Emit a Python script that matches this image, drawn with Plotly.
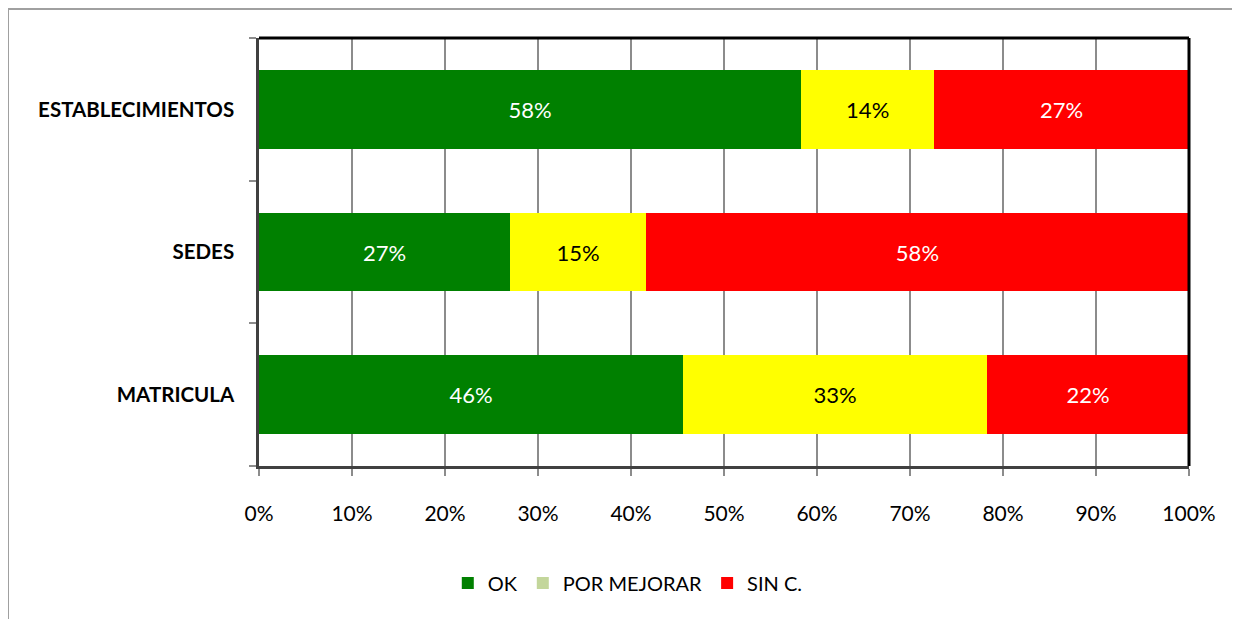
import plotly.graph_objects as go

categories = ["MATRICULA", "SEDES", "ESTABLECIMIENTOS"]
ok = [45.6, 27.0, 58.3]
por_mejorar = [32.7, 14.6, 14.3]
sin_c = [21.7, 58.4, 27.4]
tick_vals = [0, 10, 20, 30, 40, 50, 60, 70, 80, 90, 100]
tick_text = [f"{v}%" for v in tick_vals]

FONT = "Lato"
W, H = 1232, 611
L, T, R, B = 251, 30, 1181, 458  # plot area in figure pixels
PW, PH = R - L, B - T

def px(x):
    return (x - L) / PW

def py(y):
    return (B - y) / PH

fig = go.Figure()
fig.add_trace(go.Bar(
    y=categories, x=ok, orientation="h", name="OK",
    marker=dict(color="#008000", line=dict(width=0)),
    texttemplate="%{x:.0f}%", textposition="inside", insidetextanchor="middle",
    textfont=dict(color="white", size=22, family=FONT),
))
fig.add_trace(go.Bar(
    y=categories, x=por_mejorar, orientation="h", name="POR MEJORAR",
    marker=dict(color="#FFFF00", line=dict(width=0)), showlegend=False,
    texttemplate="%{x:.0f}%", textposition="inside", insidetextanchor="middle",
    textfont=dict(color="black", size=22, family=FONT),
))
fig.add_trace(go.Bar(
    y=[None], x=[None], orientation="h", name="POR MEJORAR",
    marker=dict(color="#C3D69B", line=dict(width=0)),
))
fig.add_trace(go.Bar(
    y=categories, x=sin_c, orientation="h", name="SIN C.",
    marker=dict(color="#FF0000", line=dict(width=0)),
    texttemplate="%{x:.0f}%", textposition="inside", insidetextanchor="middle",
    textfont=dict(color="white", size=22, family=FONT),
))

fig.update_layout(
    width=W, height=H,
    barmode="stack", bargap=0.45,
    plot_bgcolor="white", paper_bgcolor="white",
    margin=dict(l=L, r=W - R, t=T, b=H - B, autoexpand=False),
    font=dict(family=FONT, size=20, color="black"),
    uniformtext=dict(mode=False),
    legend=dict(orientation="h", x=0.203, xanchor="left", y=py(575), yanchor="middle",
                font=dict(size=20, family=FONT), traceorder="normal",
                itemwidth=30, tracegroupgap=0),
    xaxis=dict(range=[0, 100], tickvals=tick_vals, ticktext=tick_text,
               showgrid=True, gridcolor="#8C8C8C", gridwidth=1.5,
               showline=True, linecolor="#404040", linewidth=2.5,
               ticks="outside", ticklen=7, tickcolor="#8C8C8C", tickwidth=1.5,
               ticklabelstandoff=20,
               tickfont=dict(size=21, family=FONT), zeroline=False),
    yaxis=dict(type="category", categoryorder="array", categoryarray=categories,
               showline=True, linecolor="#404040", linewidth=2.5,
               ticks="outside", ticklen=7, tickcolor="#8C8C8C", tickwidth=1.5,
               tickson="boundaries", ticklabelstandoff=18,
               tickfont=dict(size=20.5, family=FONT, weight="bold"), showgrid=False),
    shapes=[
        dict(type="line", xref="paper", yref="paper", x0=0, x1=1, y0=1, y1=1,
             line=dict(color="black", width=3)),
        dict(type="line", xref="paper", yref="paper", x0=1, x1=1, y0=0, y1=1,
             line=dict(color="black", width=3)),
        dict(type="line", xref="paper", yref="paper", x0=px(0), x1=px(W + 10),
             y0=py(1), y1=py(1), line=dict(color="#A0A0A0", width=2)),
        dict(type="line", xref="paper", yref="paper", x0=px(0), x1=px(0),
             y0=py(1), y1=py(H + 10), line=dict(color="#A0A0A0", width=2)),
    ],
)

fig.write_html("out.html")
